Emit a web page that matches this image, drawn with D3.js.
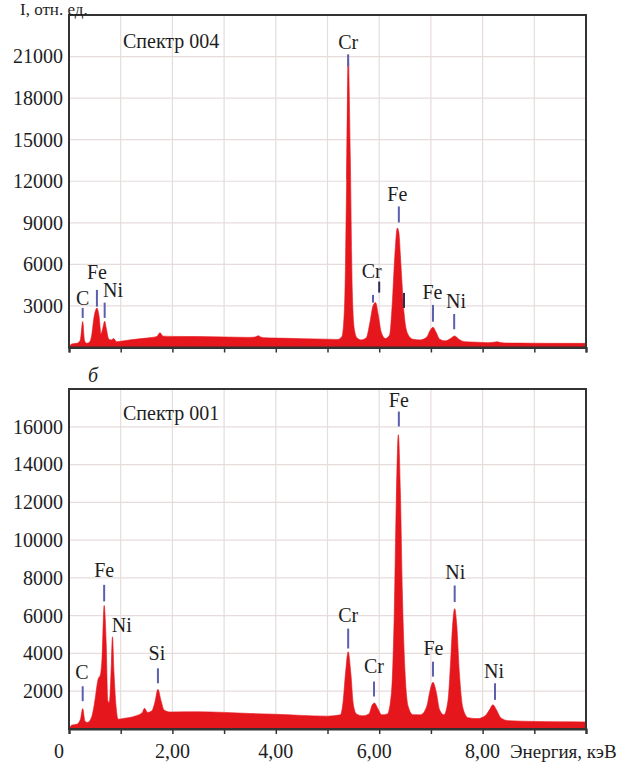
<!DOCTYPE html>
<html><head><meta charset="utf-8">
<script src="https://cdn.jsdelivr.net/npm/d3@7"></script>
<style>
body{margin:0;background:#fff}
svg{display:block}
</style>
</head><body>
<svg id="c" width="626" height="762"></svg>
<script>
// ---------- data ----------
const energyTicks = [0,1,2,3,4,5,6,7,8,9,10];
const energyLabelValues = [0,2,4,6,8];
const energyLabelTexts = ["0","2,00","4,00","6,00","8,00"];
const xAxisTitle = "Энергия, кэВ";
const yAxisTitle = "I, отн. ед.";

const topYTicks = [3000,6000,9000,12000,15000,18000,21000];
const botYTicks = [2000,4000,6000,8000,10000,12000,14000,16000];

const topTitle = "Спектр 004";
const botTitle = "Спектр 001";
const panelLetter = "б";
const nextPanelLetter = "в";

// Spectrum 004 (upper): energy (keV) and counts
const spec004E = [0,0.05,0.15,0.22,0.265,0.30,0.34,0.40,0.44,0.48,0.52,0.54,0.58,0.62,0.66,0.69,0.72,0.77,0.82,0.86,0.92,1.0,1.2,1.5,1.70,1.76,1.82,2.0,2.5,3.0,3.5,3.60,3.66,3.72,3.8,4.0,4.5,5.0,5.2,5.28,5.33,5.37,5.40,5.44,5.48,5.52,5.57,5.65,5.75,5.82,5.88,5.93,5.98,6.04,6.12,6.20,6.25,6.30,6.35,6.38,6.42,6.48,6.55,6.65,6.80,6.92,6.98,7.04,7.10,7.17,7.28,7.38,7.46,7.54,7.65,7.90,8.10,8.22,8.28,8.34,8.5,9.0,9.5,10.0];
const spec004I = [0,250,300,550,1870,500,300,400,900,2100,2750,2850,2300,1000,1500,1900,1400,600,540,650,420,450,560,680,800,1070,820,800,790,760,730,760,850,740,700,680,640,600,580,800,3000,12000,21150,14000,4000,1300,700,550,700,1800,3000,3240,2400,1100,650,900,3000,6500,8620,8300,6000,2500,1000,600,550,750,1200,1460,1100,600,480,650,830,600,420,380,350,380,420,360,320,310,300,300];

// Spectrum 001 (lower)
const spec001E = [0,0.05,0.15,0.22,0.265,0.31,0.36,0.44,0.47,0.50,0.56,0.61,0.64,0.68,0.72,0.75,0.78,0.82,0.84,0.87,0.91,0.95,1.05,1.3,1.42,1.46,1.52,1.60,1.66,1.72,1.78,1.84,1.95,2.5,3.0,3.5,4.0,4.5,5.0,5.25,5.30,5.35,5.40,5.45,5.50,5.56,5.68,5.80,5.87,5.91,5.97,6.05,6.16,6.24,6.29,6.33,6.37,6.41,6.45,6.50,6.56,6.65,6.80,6.92,6.98,7.04,7.10,7.17,7.25,7.33,7.38,7.42,7.46,7.50,7.55,7.62,7.72,7.90,8.05,8.13,8.20,8.27,8.35,8.5,9.0,9.5,10.0];
const spec001I = [0,200,250,500,1080,400,350,650,1000,1500,2600,2900,3800,6540,4500,1500,1400,3500,4880,3000,1200,520,560,700,880,1100,880,950,1400,2100,1500,1000,900,910,880,820,780,720,680,750,1400,3000,4090,3000,1300,800,700,800,1300,1370,1100,750,800,2000,6000,12000,15580,12500,7000,3000,1200,760,750,1200,2000,2470,2000,1000,750,1500,3500,5500,6370,5500,3000,1100,600,550,700,1000,1280,1000,600,440,400,380,370];

// Peak annotations: element, text energy, text level (counts), marker energy, marker top, marker bottom (counts)
const peaks004Names   = ["C","Fe","Ni","Cr","Cr","Fe","Fe","Ni"];
const peaks004TextE   = [0.265,0.54,0.85,5.40,5.855,6.35,7.03,7.485];
const peaks004TextI   = [3073,4931,3673,21511,5004,10542,3485,2834];
const peaks004MarkE   = [0.265,0.54,0.69,5.40,5.88,6.38,7.04,7.45];
const peaks004MarkTop = [2856,4158,3239,21150,3796,10181,3073,2422];
const peaks004MarkBot = [2133,2950,2133,20282,3239,9024,1866,1316];
const extra004E   = [6.0,6.48];
const extra004Top = [4758,3941];
const extra004Bot = [3962,2856];

const peaks001Names   = ["C","Fe","Ni","Si","Cr","Cr","Fe","Fe","Ni","Ni"];
const peaks001TextE   = [0.25,0.68,1.02,1.70,5.40,5.90,6.38,7.05,7.47,8.22];
const peaks001TextI   = [2658,8037,5142,3647,5668,2947,17068,3911,7947,2684];
const peaks001MarkE   = [0.265,0.68,null,1.72,5.40,5.90,6.38,7.04,7.46,8.24];
const peaks001MarkTop = [2263,7632,null,3211,5316,2511,16805,3563,7595,2421];
const peaks001MarkBot = [1474,6753,null,2421,4263,1721,16016,2774,6721,1542];

// ---------- font detection: pick an installed serif face ----------
function pickFont(cands){
  const c = document.createElement("canvas").getContext("2d");
  const s = "Спектр 004 Энергия WwIi";
  const base = ["monospace","sans-serif"];
  for(const f of cands){
    for(const b of base){
      c.font = `40px ${b}`; const w0 = c.measureText(s).width;
      c.font = `40px "${f}", ${b}`; const w1 = c.measureText(s).width;
      if(Math.abs(w1-w0) > 0.5) return `"${f}", serif`;
    }
  }
  return "serif";
}
const FONT = pickFont(["Liberation Serif","Tinos","Times New Roman","Times","DejaVu Serif","Noto Serif","FreeSerif","Nimbus Roman","Noto Serif CJK SC","Georgia"]);
document.head.insertAdjacentHTML("beforeend",`<style>svg text{font-family:${FONT};fill:#1e1e1e}</style>`);

// ---------- drawing ----------
const svg = d3.select("#c");
const left = 69, right = 586;
const x = d3.scaleLinear().domain([0,10]).range([left,right]);

const red = "#e5161c";
const gridC = "#e7dcdc";
const frameC = "#333";
const markC = "#5b5fae";

function panel(cfg){
  const y = d3.scaleLinear().domain(cfg.domain).range([cfg.bottom, cfg.top]);
  const g = svg.append("g");
  g.append("g").selectAll("line").data(energyTicks.slice(1,-1)).join("line")
    .attr("x1",d=>x(d)).attr("x2",d=>x(d)).attr("y1",cfg.top).attr("y2",cfg.bottom)
    .attr("stroke",gridC).attr("stroke-width",1.2);
  g.append("g").selectAll("line").data(cfg.yTicks).join("line")
    .attr("x1",left).attr("x2",right).attr("y1",d=>y(d)).attr("y2",d=>y(d))
    .attr("stroke",gridC).attr("stroke-width",1.2);
  const pts = cfg.E.map((e,i)=>[e,cfg.I[i]]);
  const area = d3.area().x(d=>x(d[0])).y0(y(0)).y1(d=>y(d[1])).curve(d3.curveMonotoneX);
  g.append("path").datum(pts).attr("d",area).attr("fill",red).attr("stroke",red).attr("stroke-width",0.6);
  g.append("rect").attr("x",left).attr("y",cfg.top).attr("width",right-left).attr("height",cfg.bottom-cfg.top)
    .attr("fill","none").attr("stroke",frameC).attr("stroke-width",2);
  const xa = d3.axisBottom(x).tickValues(energyTicks).tickSize(5).tickFormat("");
  const ax = g.append("g").attr("transform",`translate(0,${cfg.bottom})`).call(xa);
  ax.select(".domain").attr("stroke",frameC).attr("stroke-width",2.2);
  ax.selectAll(".tick line").attr("stroke",frameC).attr("stroke-width",1.5);
  const ya = d3.axisLeft(y).tickValues(cfg.yTicks).tickSize(0).tickPadding(6).tickFormat(d3.format("d"));
  const ay = g.append("g").attr("transform",`translate(${left},0)`).call(ya);
  ay.attr("font-family",FONT).attr("font-size",20);
  ay.select(".domain").remove();
  ay.selectAll("text").attr("fill","#1e1e1e");
  g.append("text").attr("x",123).attr("y",cfg.titleY).attr("font-size",20).text(cfg.title);
  cfg.names.forEach((n,i)=>{
    g.append("text").attr("x",x(cfg.tE[i])).attr("y",y(cfg.tI[i])).attr("text-anchor","middle")
      .attr("font-size",20).text(n);
    if(cfg.mE[i]!=null){
      g.append("line").attr("x1",x(cfg.mE[i])).attr("x2",x(cfg.mE[i]))
        .attr("y1",y(cfg.mT[i])).attr("y2",y(cfg.mB[i])).attr("stroke",markC).attr("stroke-width",2);
    }
  });
  if(cfg.exE){
    cfg.exE.forEach((e,i)=>{
      g.append("line").attr("x1",x(e)).attr("x2",x(e)).attr("y1",y(cfg.exT[i])).attr("y2",y(cfg.exB[i]))
        .attr("stroke","#2a2d5a").attr("stroke-width",2);
    });
  }
  return y;
}

panel({domain:[0,24000], top:15, bottom:347.5, yTicks:topYTicks, E:spec004E, I:spec004I,
  title:topTitle, titleY:48, names:peaks004Names, tE:peaks004TextE, tI:peaks004TextI,
  mE:peaks004MarkE, mT:peaks004MarkTop, mB:peaks004MarkBot,
  exE:extra004E, exT:extra004Top, exB:extra004Bot});

panel({domain:[0,18000], top:389, bottom:729, yTicks:botYTicks, E:spec001E, I:spec001I,
  title:botTitle, titleY:420, names:peaks001Names, tE:peaks001TextE, tI:peaks001TextI,
  mE:peaks001MarkE, mT:peaks001MarkTop, mB:peaks001MarkBot});

svg.append("g").selectAll("text").data(energyLabelValues).join("text")
  .attr("x",(d,i)=> i===0 ? x(d)-10 : x(d)-(d===6?5:0))
  .attr("y",758).attr("text-anchor","middle").attr("font-size",20)
  .text((d,i)=>energyLabelTexts[i]);
svg.append("text").attr("x",510).attr("y",758).attr("font-size",19).text(xAxisTitle);

svg.append("text").attr("x",20).attr("y",15).attr("font-size",17).text(yAxisTitle);
svg.append("text").attr("x",88).attr("y",382).attr("font-size",20).attr("font-style","italic").text(panelLetter);
svg.append("text").attr("x",90).attr("y",773).attr("font-size",20).attr("font-style","italic").text(nextPanelLetter);
</script>
</body></html>
